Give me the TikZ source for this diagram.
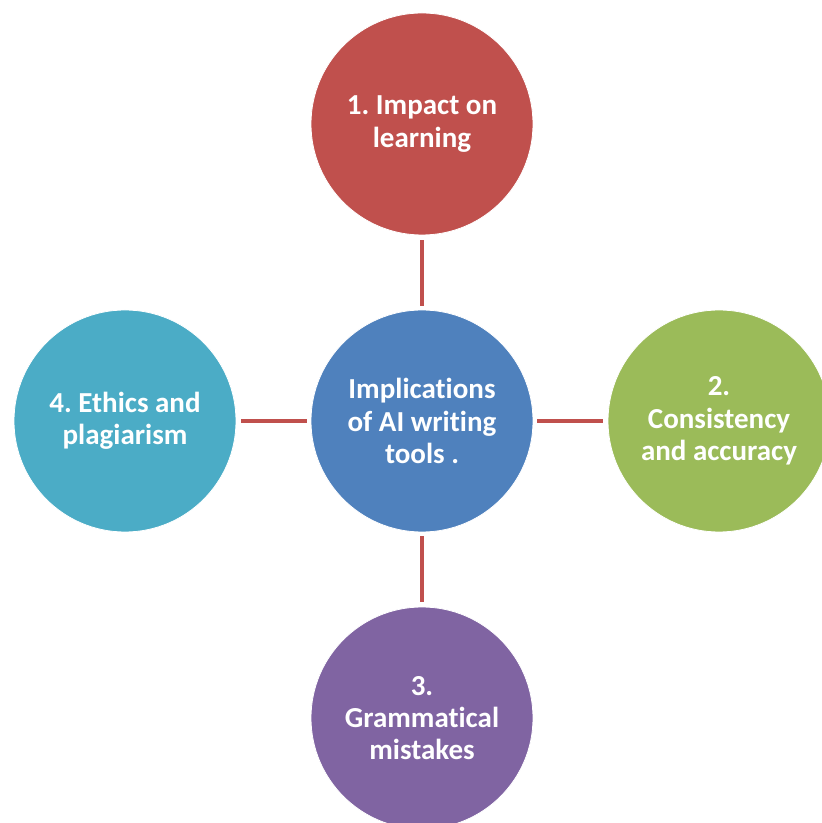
\documentclass[tikz,border=0pt]{standalone}
\usepackage{fontspec}
\setmainfont[Ligatures=NoCommon]{Carlito}
\usetikzlibrary{positioning}
\definecolor{redC}{HTML}{C0504D}
\definecolor{blueC}{HTML}{4F81BD}
\definecolor{greenC}{HTML}{9BBB59}
\definecolor{purpleC}{HTML}{8064A2}
\definecolor{tealC}{HTML}{4BACC6}
\tikzset{
	bubble/.style={circle, minimum size=111pt, inner sep=0pt, draw=white, line width=0.4pt, text=white, align=center},
	link/.style={draw=redC, line width=2.3pt, shorten <=2pt, shorten >=2.5pt}
}
\frenchspacing

\begin{document}
\begin{tikzpicture}[font=\bfseries\fontsize{14.5}{16.2}\selectfont, x=1pt, y=1pt]
	\def\D{148.5}
	\useasboundingbox (-211,-201) rectangle (199.5,210.5);
	
	\node[bubble, fill=blueC] (mid) at (0,0) {Implications\\of AI writing\\tools .};
	
	\foreach \name/\ang/\col/\txt in {learn/90/redC/{1. Impact on\\learning}, accuracy/0/greenC/{2.\\Consistency\\and accuracy}, grammar/-90/purpleC/{3.\\Grammatical\\mistakes}, ethics/180/tealC/{4. Ethics and\\plagiarism}} {
		\node[bubble, fill=\col] (\name) at (\ang:\D) {\txt};
		\draw[link] (mid) -- (\name);
	}
	
\end{tikzpicture}
\end{document}
